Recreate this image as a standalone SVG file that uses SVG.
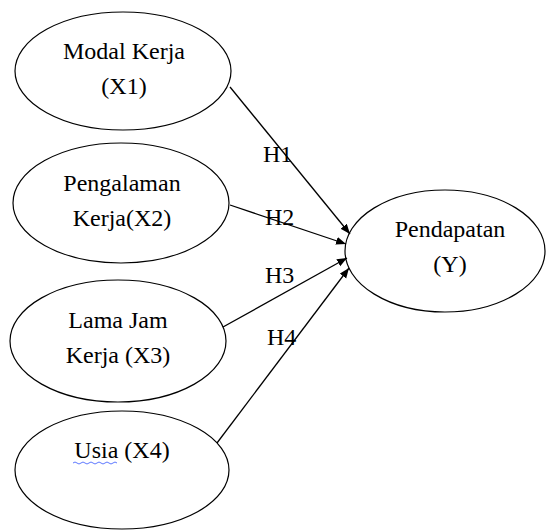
<svg xmlns="http://www.w3.org/2000/svg" width="547" height="530" viewBox="0 0 547 530">
<style>
.n{fill:#fff;stroke:#000;stroke-width:1.2}
.t{font-family:"Times New Roman","Liberation Serif",Times,serif;font-size:24px;fill:#000;text-anchor:middle}
.h{font-family:"Times New Roman","Liberation Serif",Times,serif;font-size:24px;fill:#000}
.c{stroke:#000;stroke-width:1.3;fill:none;marker-end:url(#ah)}
</style>
<defs>
<marker id="ah" markerUnits="userSpaceOnUse" markerWidth="12" markerHeight="10" refX="10" refY="4" orient="auto">
<path d="M0,0 L10,4 L0,8 Z" fill="#000"/>
</marker>
</defs>
<rect width="547" height="530" fill="#fff"/>
<g id="x1"><ellipse class="n" cx="123" cy="71" rx="108" ry="59"/><text class="t" x="124" y="59">Modal Kerja</text><text class="t" x="124" y="94">(X1)</text></g>
<g id="x2"><ellipse class="n" cx="121" cy="203" rx="108" ry="60"/><text class="t" x="122" y="191">Pengalaman</text><text class="t" x="122" y="226">Kerja(X2)</text></g>
<g id="x3"><ellipse class="n" cx="118" cy="341" rx="108" ry="61"/><text class="t" x="118" y="328">Lama Jam</text><text class="t" x="118" y="363">Kerja (X3)</text></g>
<g id="x4"><ellipse class="n" cx="122" cy="470" rx="107" ry="59"/><text class="t" x="122" y="458">Usia (X4)</text><path d="M73,463 q2,-2 4,0 t4,0 t4,0 t4,0 t4,0 t4,0 t4,0 t4,0 t4,0 t4,0 t4,0" fill="none" stroke="#3355ff" stroke-width="0.8"/></g>
<g id="y"><ellipse class="n" cx="445" cy="251" rx="100" ry="61"/><text class="t" x="450" y="237">Pendapatan</text><text class="t" x="450" y="272">(Y)</text></g>
<g id="connectors">
<line class="c" x1="230" y1="87" x2="350" y2="234"/>
<line class="c" x1="230" y1="205" x2="346" y2="244"/>
<line class="c" x1="223" y1="327" x2="347" y2="258"/>
<line class="c" x1="217" y1="443" x2="349" y2="268"/>
<text class="h" x="263" y="162">H1</text>
<text class="h" x="265" y="225">H2</text>
<text class="h" x="265" y="283">H3</text>
<text class="h" x="267" y="345">H4</text>
</g>
</svg>
